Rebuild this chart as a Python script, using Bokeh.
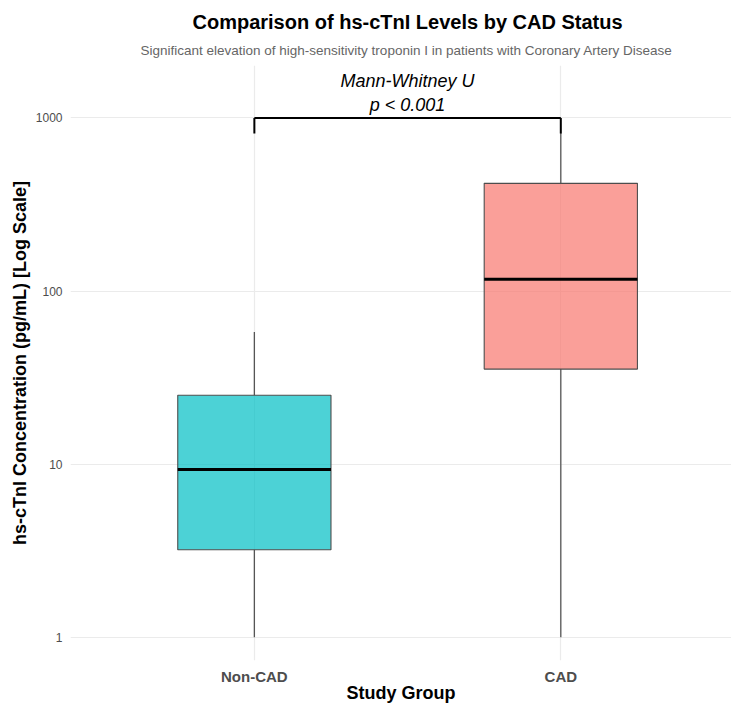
from bokeh.plotting import figure
from bokeh.models import Range1d, FixedTicker, NumeralTickFormatter, Title, ColumnDataSource
from bokeh.core.properties import value
from bokeh.embed import file_html
from bokeh.resources import INLINE

# ---- data ----
categories = ["Non-CAD", "CAD"]
whisker_low = [1.0, 1.0]
q1 = [3.2, 35.4]
median = [9.3, 117.0]
q3 = [25.0, 419.0]
whisker_high = [58.0, 820.0]
fill_colors = ["#00BFC4", "#F8766D"]
y_ticks = [1, 10, 100, 1000]
y_tick_labels = ["1", "10", "100", "1000"]
test_lines = ["Mann-Whitney U", "p < 0.001"]

title_text = "Comparison of hs-cTnI Levels by CAD Status"
subtitle_text = "Significant elevation of high-sensitivity troponin I in patients with Coronary Artery Disease"
x_title = "Study Group"
y_title = "hs-cTnI Concentration (pg/mL) [Log Scale]"

FONT = "Liberation Sans"
BOX_W = 0.5

x_pos = [i + 1 for i in range(len(categories))]

p = figure(width=731, height=706, output_backend="svg", toolbar_location=None,
           y_axis_type="log",
           x_range=Range1d(0.4, 2.557), y_range=Range1d(0.733, 2010),
           min_border_left=70, min_border_right=0, min_border_top=65, min_border_bottom=46,
           title=None)
p.outline_line_color = None
p.background_fill_color = "white"
p.border_fill_color = "white"

# axes
p.xaxis.ticker = FixedTicker(ticks=x_pos)
p.xaxis.major_label_overrides = {x: c for x, c in zip(x_pos, categories)}
p.yaxis.ticker = FixedTicker(ticks=y_ticks)
p.yaxis.major_label_overrides = {t: l for t, l in zip(y_ticks, y_tick_labels)}
p.yaxis.formatter = NumeralTickFormatter(format="0")
for ax in (p.xaxis, p.yaxis):
    ax.axis_line_color = None
    ax.major_tick_line_color = None
    ax.minor_tick_line_color = None
    ax.major_tick_out = 0
    ax.major_tick_in = 0
    ax.minor_tick_out = 0
    ax.minor_tick_in = 0
    ax.major_label_text_font = FONT
    ax.major_label_text_color = "#4d4d4d"
    ax.axis_label_text_font = FONT
    ax.axis_label_text_font_style = "bold"
    ax.axis_label_text_color = "black"
    ax.axis_label_text_font_size = "18px"

p.xaxis.axis_label = x_title
p.xaxis.major_label_text_font_size = "15px"
p.xaxis.major_label_text_font_style = "bold"
p.xaxis.major_label_standoff = 7
p.xaxis.axis_label_standoff = -5

p.yaxis.axis_label = y_title
p.yaxis.major_label_text_font_size = "12px"
p.yaxis.major_label_standoff = 8
p.yaxis.axis_label_standoff = 3

# grid
p.xgrid.grid_line_color = "#ebebeb"
p.ygrid.grid_line_color = "#ebebeb"
p.xgrid.grid_line_width = 1.2
p.ygrid.grid_line_width = 1.2
p.ygrid.minor_grid_line_color = None

# boxplots
src = ColumnDataSource(dict(
    x=x_pos, lo=whisker_low, q1=q1, med=median, q3=q3, hi=whisker_high, color=fill_colors,
    xl=[x - BOX_W / 2 for x in x_pos], xr=[x + BOX_W / 2 for x in x_pos],
))
p.segment(x0="x", y0="q3", x1="x", y1="hi", source=src, line_color="#555555", line_width=1.3)
p.segment(x0="x", y0="lo", x1="x", y1="q1", source=src, line_color="#555555", line_width=1.3)
p.vbar(x="x", width=BOX_W, bottom="q1", top="q3", source=src,
       fill_color="color", fill_alpha=0.7, line_color="#4d4d4d", line_width=1.1)
p.segment(x0="xl", y0="med", x1="xr", y1="med", source=src,
          line_color="black", line_width=3, line_cap="butt")

# significance bracket
bracket_y = 1000
tip_y = 813
p.segment(x0=[x_pos[0], x_pos[0], x_pos[1]], y0=[bracket_y, bracket_y, bracket_y],
          x1=[x_pos[1], x_pos[0], x_pos[1]], y1=[bracket_y, tip_y, tip_y],
          line_color="black", line_width=2, line_cap="butt")
mid_x = (x_pos[0] + x_pos[1]) / 2
p.text(x=[mid_x, mid_x], y=[1629, 1189], text=test_lines,
       text_font=value(FONT), text_font_style="italic", text_font_size="18px",
       text_align="center", text_baseline="alphabetic", text_color="black")

# titles
sub = Title(text=subtitle_text, text_font=FONT, text_font_size="13.5px",
            text_font_style="normal", text_color="#666666", align="left", offset=70, standoff=15)
main = Title(text=title_text, text_font=FONT, text_font_size="20px",
             text_font_style="bold", text_color="black", align="left", offset=122, standoff=2)
p.add_layout(sub, "above")
p.add_layout(main, "above")

open("out.html", "w").write(file_html(p, INLINE))
